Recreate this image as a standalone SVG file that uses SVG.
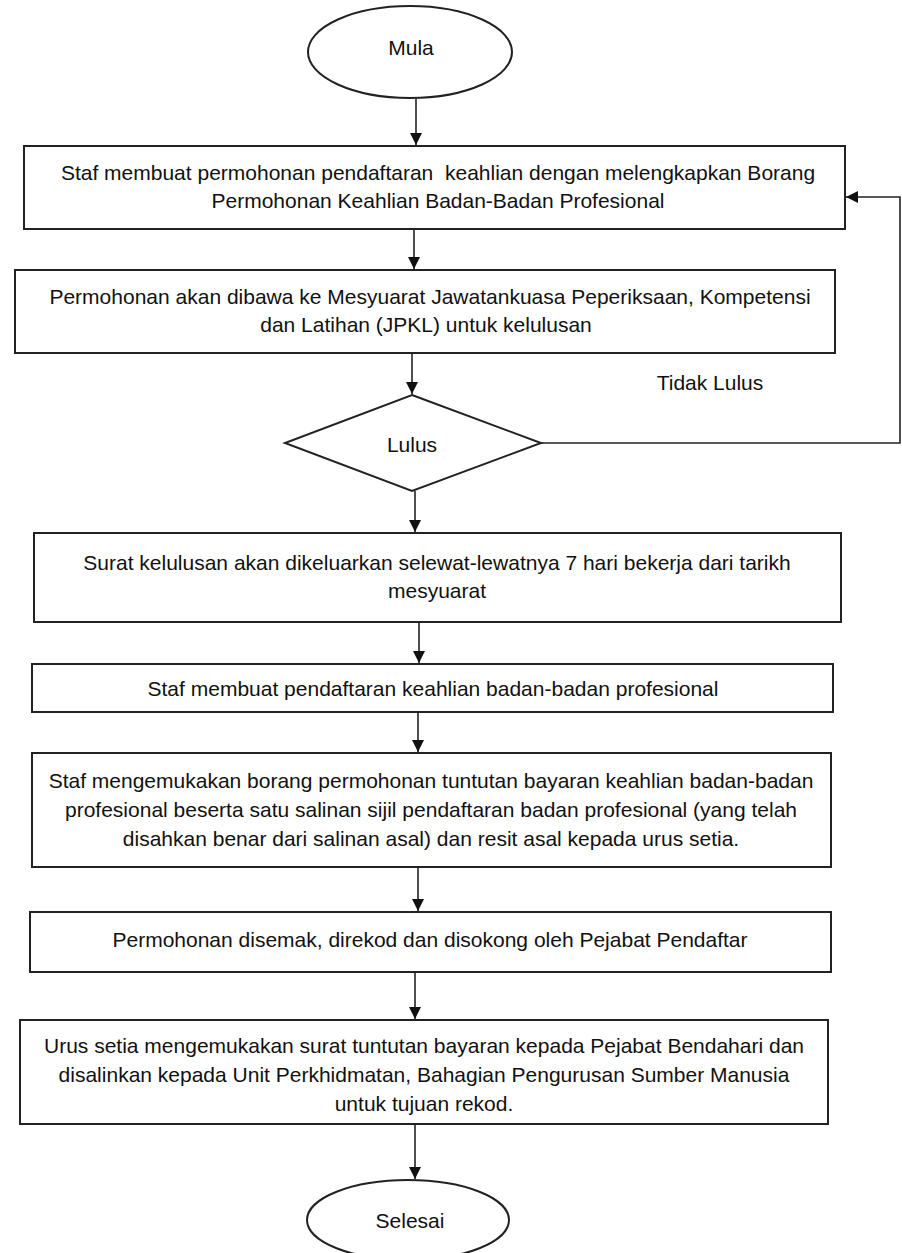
<svg xmlns="http://www.w3.org/2000/svg" width="902" height="1253" viewBox="0 0 902 1253">
<defs>
<style>
.box{fill:#fff;stroke:#222;stroke-width:2}
.t{font-family:"Liberation Sans",Arial,sans-serif;font-size:21px;fill:#111;text-anchor:middle;white-space:pre}
.c{fill:none;stroke:#222;stroke-width:1.6}
</style>
<marker id="ah" markerUnits="userSpaceOnUse" markerWidth="12" markerHeight="14" refX="12" refY="6" orient="auto"><path d="M0,0 L12,6 L0,12 z" fill="#111"/></marker>
</defs>
<rect width="902" height="1253" fill="#fff"/>
<g id="connectors">
<line class="c" x1="416" y1="99" x2="416" y2="145" marker-end="url(#ah)"/>
<line class="c" x1="414" y1="229" x2="414" y2="269" marker-end="url(#ah)"/>
<line class="c" x1="412" y1="353" x2="412" y2="394" marker-end="url(#ah)"/>
<line class="c" x1="415" y1="491" x2="415" y2="532" marker-end="url(#ah)"/>
<line class="c" x1="419" y1="622" x2="419" y2="663" marker-end="url(#ah)"/>
<line class="c" x1="418" y1="712" x2="418" y2="752" marker-end="url(#ah)"/>
<line class="c" x1="418" y1="867" x2="418" y2="911" marker-end="url(#ah)"/>
<line class="c" x1="415" y1="972" x2="415" y2="1019" marker-end="url(#ah)"/>
<line class="c" x1="415" y1="1124" x2="415" y2="1179" marker-end="url(#ah)"/>
<polyline class="c" points="541,443 900,443 900,197 846,197" marker-end="url(#ah)"/>
<text class="t" x="710" y="390">Tidak Lulus</text>
</g>
<g id="mula"><ellipse class="box" cx="410" cy="52" rx="102" ry="46"/><text class="t" x="411" y="55">Mula</text></g>
<g id="box1"><rect class="box" x="24" y="146" width="821" height="83"/>
<text class="t" x="438" y="180" xml:space="preserve">Staf membuat permohonan pendaftaran  keahlian dengan melengkapkan Borang</text>
<text class="t" x="438" y="208">Permohonan Keahlian Badan-Badan Profesional</text></g>
<g id="box2"><rect class="box" x="15" y="270" width="820" height="83"/>
<text class="t" x="430" y="304">Permohonan akan dibawa ke Mesyuarat Jawatankuasa Peperiksaan, Kompetensi</text>
<text class="t" x="426" y="332">dan Latihan (JPKL) untuk kelulusan</text></g>
<g id="lulus"><polygon class="box" points="412,395 541,443 412,491 285,443"/><text class="t" x="412" y="452">Lulus</text></g>
<g id="box3"><rect class="box" x="34" y="533" width="807" height="89"/>
<text class="t" x="437" y="570">Surat kelulusan akan dikeluarkan selewat-lewatnya 7 hari bekerja dari tarikh</text>
<text class="t" x="437" y="598">mesyuarat</text></g>
<g id="box4"><rect class="box" x="32" y="664" width="801" height="48"/>
<text class="t" x="433" y="696">Staf membuat pendaftaran keahlian badan-badan profesional</text></g>
<g id="box5"><rect class="box" x="32" y="753" width="799" height="114"/>
<text class="t" x="431" y="788">Staf mengemukakan borang permohonan tuntutan bayaran keahlian badan-badan</text>
<text class="t" x="431" y="817">profesional beserta satu salinan sijil pendaftaran badan profesional (yang telah</text>
<text class="t" x="431" y="846">disahkan benar dari salinan asal) dan resit asal kepada urus setia.</text></g>
<g id="box6"><rect class="box" x="30" y="912" width="801" height="60"/>
<text class="t" x="430" y="947">Permohonan disemak, direkod dan disokong oleh Pejabat Pendaftar</text></g>
<g id="box7"><rect class="box" x="20" y="1020" width="808" height="104"/>
<text class="t" x="424" y="1053">Urus setia mengemukakan surat tuntutan bayaran kepada Pejabat Bendahari dan</text>
<text class="t" x="424" y="1082">disalinkan kepada Unit Perkhidmatan, Bahagian Pengurusan Sumber Manusia</text>
<text class="t" x="424" y="1111">untuk tujuan rekod.</text></g>
<g id="selesai"><ellipse class="box" cx="408" cy="1220" rx="101" ry="40"/><text class="t" x="410" y="1228">Selesai</text></g>
</svg>
